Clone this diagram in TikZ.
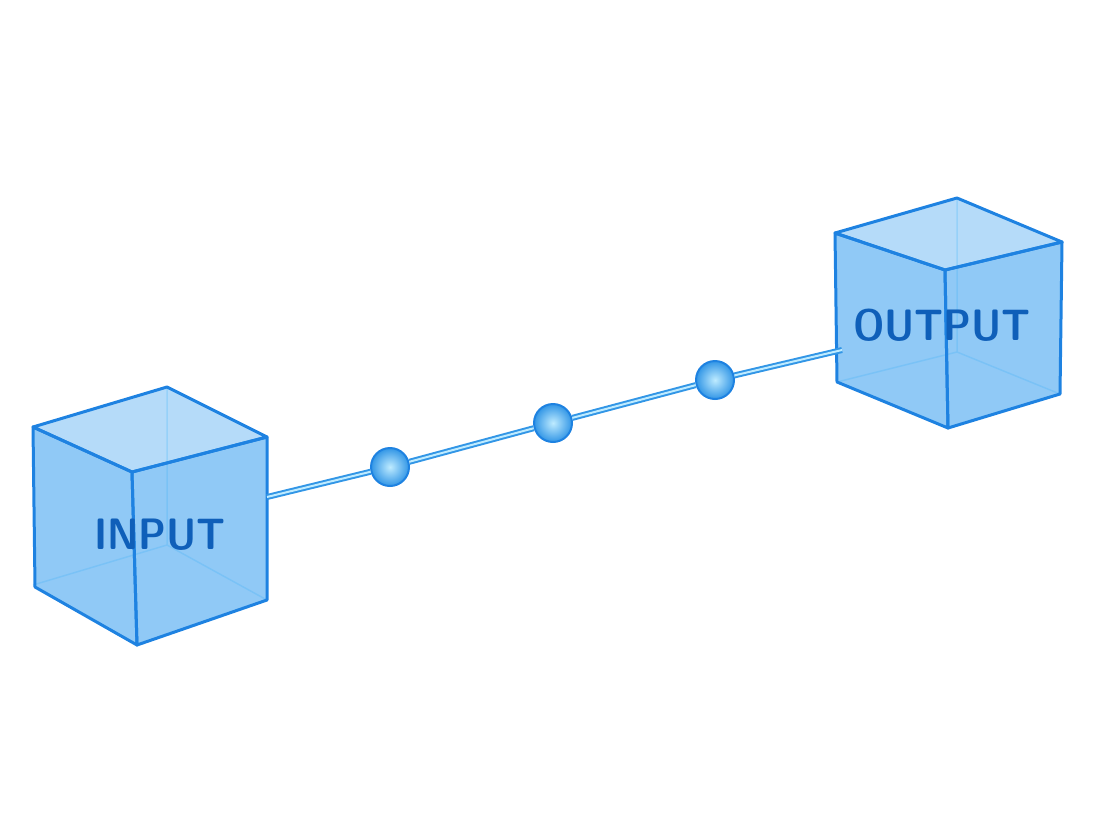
\documentclass[tikz,border=0pt]{standalone}
\usetikzlibrary{positioning}
\definecolor{glass}{RGB}{70,165,240}
\definecolor{glassdark}{RGB}{50,150,230}
\definecolor{edge}{RGB}{30,130,225}
\definecolor{rim}{RGB}{190,235,255}
\definecolor{label}{RGB}{15,95,185}
\tikzset{
  face/.style={fill=glass,fill opacity=0.6,draw=edge,line width=3pt,line join=round},
  hidden/.style={draw=rim,line width=1.5pt,opacity=0.8},
  ball/.style={circle,minimum size=38pt,inner sep=0pt,draw=edge,line width=2pt,
    inner color=rim,outer color=glassdark},
  wire/.style={draw=glassdark,line width=6pt},
  wirehi/.style={draw=rim,line width=2pt},
  word/.style={font=\fontsize{44}{44}\sffamily\bfseries,text=label,inner sep=0pt,xscale=0.9}
}
\begin{document}
\begin{tikzpicture}[x=1pt,y=-1pt]
\useasboundingbox (0,0) rectangle (1100,825);

%Shape: left cube
\draw [hidden] (167,387) -- (167,545) -- (33,585) (167,545) -- (267,600);
\draw [face] (33,427) -- (132,472) -- (137,645) -- (35,587) -- cycle ;
\draw [face] (132,472) -- (267,437) -- (267,600) -- (137,645) -- cycle ;
\draw [face,fill opacity=0.4] (33,427) -- (167,387) -- (267,437) -- (132,472) -- cycle ;
\node [word] (in) at (160,535) {INPUT};

%Shape: right cube
\draw [hidden] (957,198) -- (957,352) -- (837,382) (957,352) -- (1060,394);
\draw [face] (835,233) -- (945,270) -- (948,428) -- (837,382) -- cycle ;
\draw [face] (945,270) -- (1062,242) -- (1060,394) -- (948,428) -- cycle ;
\draw [face,fill opacity=0.4] (835,233) -- (957,198) -- (1062,242) -- (945,270) -- cycle ;
\node [word] (out) at (942,325) {OUTPUT};

%Connector
\coordinate (inport) at (267,497);
\coordinate (outport) at (842,350);
\node [ball] (b1) at (390,467) {};
\node [ball] (b2) at (553,423) {};
\node [ball] (b3) at (715,380) {};
\draw [wire] (inport) -- (b1) (b1) -- (b2) (b2) -- (b3) (b3) -- (outport);
\draw [wirehi] (inport) -- (b1) (b1) -- (b2) (b2) -- (b3) (b3) -- (outport);

\end{tikzpicture}
\end{document}
